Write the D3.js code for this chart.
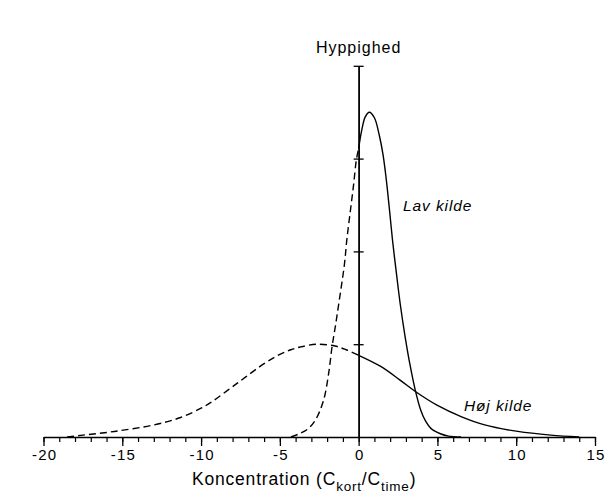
<!DOCTYPE html>
<html lang="da">
<head>
    <meta charset="UTF-8">
    <title>Hyppighed - koncentration</title>
    <script src="https://d3js.org/d3.v7.min.js"></script>
    <style>
        body{ margin:0; background:#fff; }
        svg{ display:block; font-family:"Liberation Sans", Arial, sans-serif; }
        .tick text{ font-size:15px; letter-spacing:1.2px; fill:#000; }
        .lbl{ fill:#000; }
    </style>
</head>
<body>
<svg id="canvas" width="608" height="495"></svg>

<script>
    // x ticks (Koncentration) and y ticks (Hyppighed, unlabelled)
    const xMajorTicks = [-20, -15, -10, -5, 0, 5, 10, 15];
    const xMinorTicks = d3.range(-20, 16, 1);
    const yTicks = [1, 2, 3, 4];

    // "Lav kilde" - narrow distribution
    const lavX = [-4.3, -3.7, -3.2, -2.75, -2.22, -1.9, -1.69, -1.48, -1.25, -0.91, -0.74, -0.53, -0.32, -0.15, 0,
                  0.2, 0.42, 0.68, 1.0, 1.3, 1.55, 1.75, 1.95, 2.15, 2.4, 2.65, 2.95, 3.28, 3.6, 3.92, 4.25, 4.6, 5.19, 5.7, 6.5];
    const lavY = [0, 0.04, 0.09, 0.18, 0.40, 0.69, 0.97, 1.19, 1.45, 1.85, 2.14, 2.43, 2.72, 2.98, 3.11,
                  3.31, 3.45, 3.50, 3.44, 3.26, 3.04, 2.78, 2.46, 2.12, 1.76, 1.42, 1.08, 0.76, 0.5, 0.3, 0.17, 0.09, 0.035, 0.01, 0];

    // "Høj kilde" - wide distribution
    const hojX = [-18.5, -17.5, -15.5, -13, -11.3, -10, -9.4, -7.7, -6, -5, -4.3, -3.7, -2.6, -1.5, -0.8, 0,
                  1.4, 2.65, 3.6, 5, 6.5, 8, 10.1, 12.2, 14];
    const hojY = [0, 0.02, 0.06, 0.13, 0.21, 0.31, 0.37, 0.58, 0.79, 0.89, 0.94, 0.97, 1.0, 0.98, 0.94, 0.88,
                  0.76, 0.61, 0.49, 0.34, 0.22, 0.13, 0.06, 0.02, 0];

    const svg = d3.select('#canvas');

    const x = d3.scaleLinear().domain([-20, 15]).range([43.5, 595]);
    const y = d3.scaleLinear().domain([0, 4]).range([437, 65.8]);

    // x axis: long ticks with labels, short ticks every unit
    svg.append("g")
        .attr("transform", `translate(0,${y(0)})`)
        .call(d3.axisBottom(x).tickValues(xMinorTicks).tickSize(5).tickSizeOuter(0).tickFormat(""))
        .call(g => g.select(".domain").remove())
        .call(g => g.selectAll("line").attr("stroke", "#000").attr("stroke-width", 1.2));

    const xAxis = svg.append("g")
        .attr("transform", `translate(0,${y(0)})`)
        .call(d3.axisBottom(x).tickValues(xMajorTicks).tickSize(9).tickSizeOuter(0)
            .tickFormat(d => d < 0 ? "-" + Math.abs(d) : d));
    xAxis.select(".domain").attr("stroke", "#000").attr("stroke-width", 1.5);
    xAxis.selectAll("line").attr("stroke", "#000").attr("stroke-width", 1.3);
    xAxis.selectAll("text").attr("y", 22.5).attr("dy", 0).attr("dx", 0.6);

    // y axis at x = 0, ticks crossing both sides
    [d3.axisLeft, d3.axisRight].forEach(ax => {
        svg.append("g")
            .attr("transform", `translate(${x(0)},0)`)
            .call(ax(y).tickValues(yTicks).tickSize(5).tickSizeOuter(0).tickFormat(""))
            .call(g => g.select(".domain").attr("stroke", "#000").attr("stroke-width", 1.4))
            .call(g => g.selectAll("line").attr("stroke", "#000").attr("stroke-width", 1.3));
    });

    const line = d3.line()
        .x(d => x(d[0]))
        .y(d => y(d[1]))
        .curve(d3.curveCatmullRom);

    function drawSeries(xs, ys){
        const pts = xs.map((v, i) => [v, ys[i]]);
        svg.append("path")
            .datum(pts.filter(d => d[0] <= 0))
            .attr("d", line)
            .attr("fill", "none")
            .attr("stroke", "#000")
            .attr("stroke-width", 1.4)
            .attr("stroke-dasharray", "7,4");
        svg.append("path")
            .datum(pts.filter(d => d[0] >= 0))
            .attr("d", line)
            .attr("fill", "none")
            .attr("stroke", "#000")
            .attr("stroke-width", 1.4);
    }
    drawSeries(hojX, hojY);
    drawSeries(lavX, lavY);

    // labels
    svg.append("text").attr("class", "lbl")
        .attr("x", x(0)).attr("y", 52.5)
        .attr("text-anchor", "middle")
        .attr("font-size", 16).attr("letter-spacing", 1)
        .text("Hyppighed");

    svg.append("text").attr("class", "lbl")
        .attr("x", x(2.82)).attr("y", y(2.43))
        .attr("font-size", 15.5).attr("font-style", "italic").attr("letter-spacing", 0.9)
        .text("Lav kilde");

    svg.append("text").attr("class", "lbl")
        .attr("x", x(6.68)).attr("y", y(0.28))
        .attr("font-size", 15.5).attr("font-style", "italic").attr("letter-spacing", 0.9)
        .text("Høj kilde");

    const title = svg.append("text").attr("class", "lbl")
        .attr("x", 192).attr("y", 485)
        .attr("font-size", 17.5).attr("letter-spacing", 0.8);
    title.append("tspan").text("Koncentration (C");
    title.append("tspan").attr("font-size", 13.5).attr("dy", 6).text("kort");
    title.append("tspan").attr("dy", -6).text("/C");
    title.append("tspan").attr("font-size", 13.5).attr("dy", 6).text("time");
    title.append("tspan").attr("dy", -6).text(")");
</script>
</body>
</html>
